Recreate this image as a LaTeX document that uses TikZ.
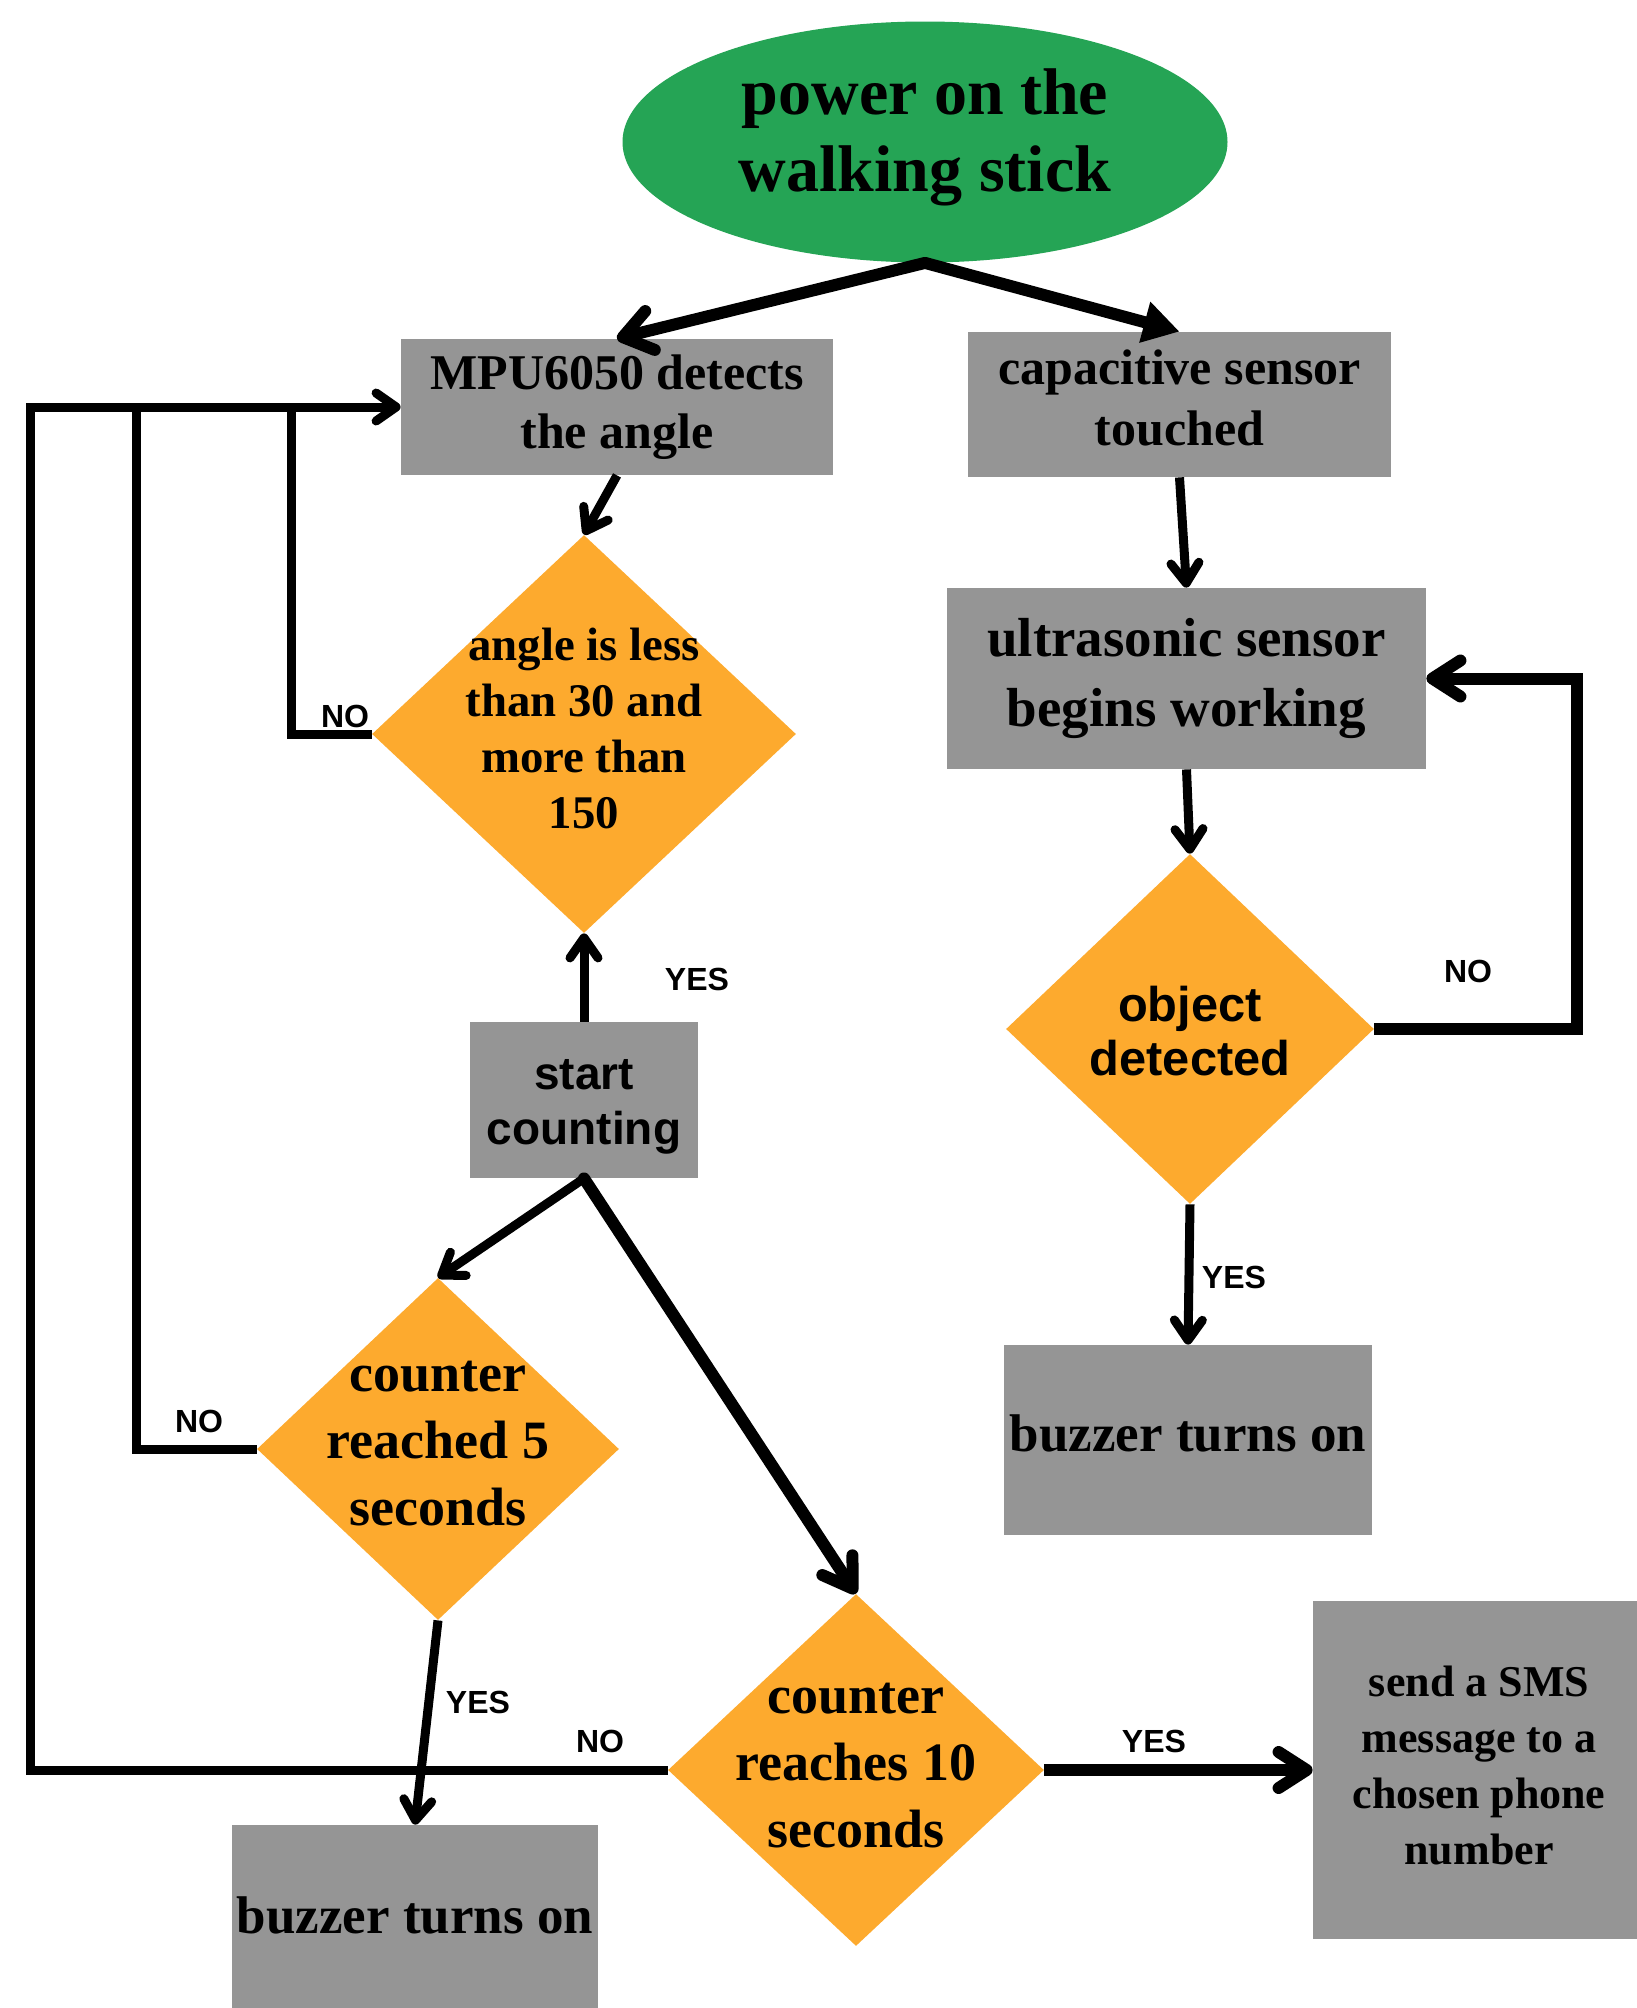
\documentclass[tikz,border=0pt]{standalone}
\usepackage{fontspec}
\setmainfont{Liberation Serif}
\newfontfamily\lsans{Liberation Sans}
\usetikzlibrary{shapes.geometric,arrows.meta}
\definecolor{boxgray}{RGB}{149,149,149}
\definecolor{dorange}{RGB}{253,170,46}
\definecolor{egreen}{RGB}{37,164,85}
\tikzset{
 gbox/.style={rectangle, fill=boxgray, inner sep=0pt, align=center},
 dia/.style={diamond, fill=dorange, inner sep=0pt},
 dtext/.style={align=center, inner sep=0pt},
 conn/.style={line width=4.5pt, -{Straight Barb[length=10pt,width=14pt,round]}},
 plainline/.style={line width=4.5pt},
 thickconn/.style={line width=6pt, -{Straight Barb[length=14pt,width=18pt,round]}},
 lbl/.style={font=\lsans\bfseries\fontsize{16}{19}\selectfont, inner sep=0pt},
}
\begin{document}
\begin{tikzpicture}[x=0.5pt,y=-0.5pt]
\useasboundingbox (0,0) rectangle (1637,2008);

% nodes
\node[ellipse, fill=egreen, minimum width=302.5pt, minimum height=120.5pt, inner sep=0pt] (pw) at (925,142) {};
\node[dtext, font=\bfseries\fontsize{33}{38.5}\selectfont] (pwt) at (925,137) {power on the\\walking stick};

\node[gbox, minimum width=216pt, minimum height=68pt, font=\bfseries\fontsize{25}{29.5}\selectfont] (mpu) at (617,407) {MPU6050 detects\\the angle};
\node[gbox, minimum width=211.5pt, minimum height=72.5pt, font=\bfseries\fontsize{25}{30.5}\selectfont] (cap) at (1179.5,404.5) {};
\node[dtext, font=\bfseries\fontsize{25}{30.5}\selectfont] (capt) at (1179.5,398) {capacitive sensor\\touched};
\node[gbox, minimum width=239.5pt, minimum height=90.5pt, font=\bfseries\fontsize{27.5}{35}\selectfont] (ult) at (1186.5,678.5) {ultrasonic sensor\\begins working};

\node[dia, minimum width=212pt, minimum height=199pt] (ang) at (584,734) {};
\node[dtext, font=\bfseries\fontsize{23.4}{28}\selectfont] (angt) at (584,728) {angle is less\\than 30 and\\more than\\150};

\node[gbox, minimum width=114pt, minimum height=78pt] (cnt) at (584,1100) {};
\node[dtext, font=\lsans\bfseries\fontsize{23}{27.5}\selectfont] (cntt) at (584,1107) {start\\counting};

\node[dia, minimum width=184pt, minimum height=175pt] (obj) at (1190,1029) {};
\node[dtext, font=\lsans\bfseries\fontsize{24.4}{27}\selectfont] (objt) at (1190,1031) {object\\detected};

\node[gbox, minimum width=184pt, minimum height=95pt, font=\bfseries\fontsize{26.5}{32}\selectfont] (bzr) at (1188,1440) {};
\node[dtext, font=\bfseries\fontsize{26.5}{32}\selectfont] (bzrt) at (1188,1433) {buzzer turns on};

\node[dia, minimum width=181pt, minimum height=171pt] (c5) at (438,1449) {};
\node[dtext, font=\bfseries\fontsize{27}{33.5}\selectfont] (c5t) at (438,1444) {counter\\reached 5\\seconds};

\node[dia, minimum width=188pt, minimum height=176pt] (c10) at (856,1770) {};
\node[dtext, font=\bfseries\fontsize{27}{33.5}\selectfont] (c10t) at (856,1766) {counter\\reaches 10\\seconds};

\node[gbox, minimum width=183pt, minimum height=91.5pt] (bzl) at (415,1916.5) {};
\node[dtext, font=\bfseries\fontsize{26.5}{32}\selectfont] (bzlt) at (415,1915) {buzzer turns on};

\node[gbox, minimum width=162pt, minimum height=169pt] (sms) at (1475,1770) {};
\node[dtext, font=\bfseries\fontsize{22}{28}\selectfont] (smst) at (1479,1765) {send a SMS\\message to a\\chosen phone\\number};

% junction coordinates
\coordinate (j1) at (30,407);
\coordinate (j2) at (136,407);
\coordinate (j3) at (291,407);
\coordinate (loopR) at (1577,678.5);

% connectors
\draw[line width=6pt, line join=round, {Straight Barb[length=14pt,width=20pt,round]}-{Triangle[length=18pt,width=20pt]}] (mpu.north) -- (pw.south) -- (cap.north);
\draw[conn] (mpu.south) -- (ang.north);
\draw[conn] (cap.south) -- (ult.north);
\draw[conn] (ult.south) -- (obj.north);
\draw[thickconn] (obj.east) -| (loopR) -- (ult.east);
\draw[conn] (obj.south) -- (bzr.north);
\draw[conn] (cnt.north) -- (ang.south);
\draw[plainline] (ang.west) -| (j3);
\draw[plainline] (c5.west) -| (j2);
\draw[conn] (c10.west) -| (j1) -- (mpu.west);
\draw[conn, line cap=round] (cnt.south) -- (c5.north);
\draw[thickconn, line cap=round] (cnt.south) -- (c10.north);
\draw[conn] (c5.south) -- (bzl.north);
\draw[thickconn] (c10.east) -- (sms.west);

% labels
\node[lbl] (l1) at (1468,971) {NO};
\node[lbl] (l2) at (1234,1277) {YES};
\node[lbl] (l3) at (697,979) {YES};
\node[lbl] (l4) at (345,716) {NO};
\node[lbl] (l5) at (199,1421) {NO};
\node[lbl] (l6) at (600,1741) {NO};
\node[lbl] (l7) at (478,1702) {YES};
\node[lbl] (l8) at (1154,1741) {YES};
\end{tikzpicture}
\end{document}
